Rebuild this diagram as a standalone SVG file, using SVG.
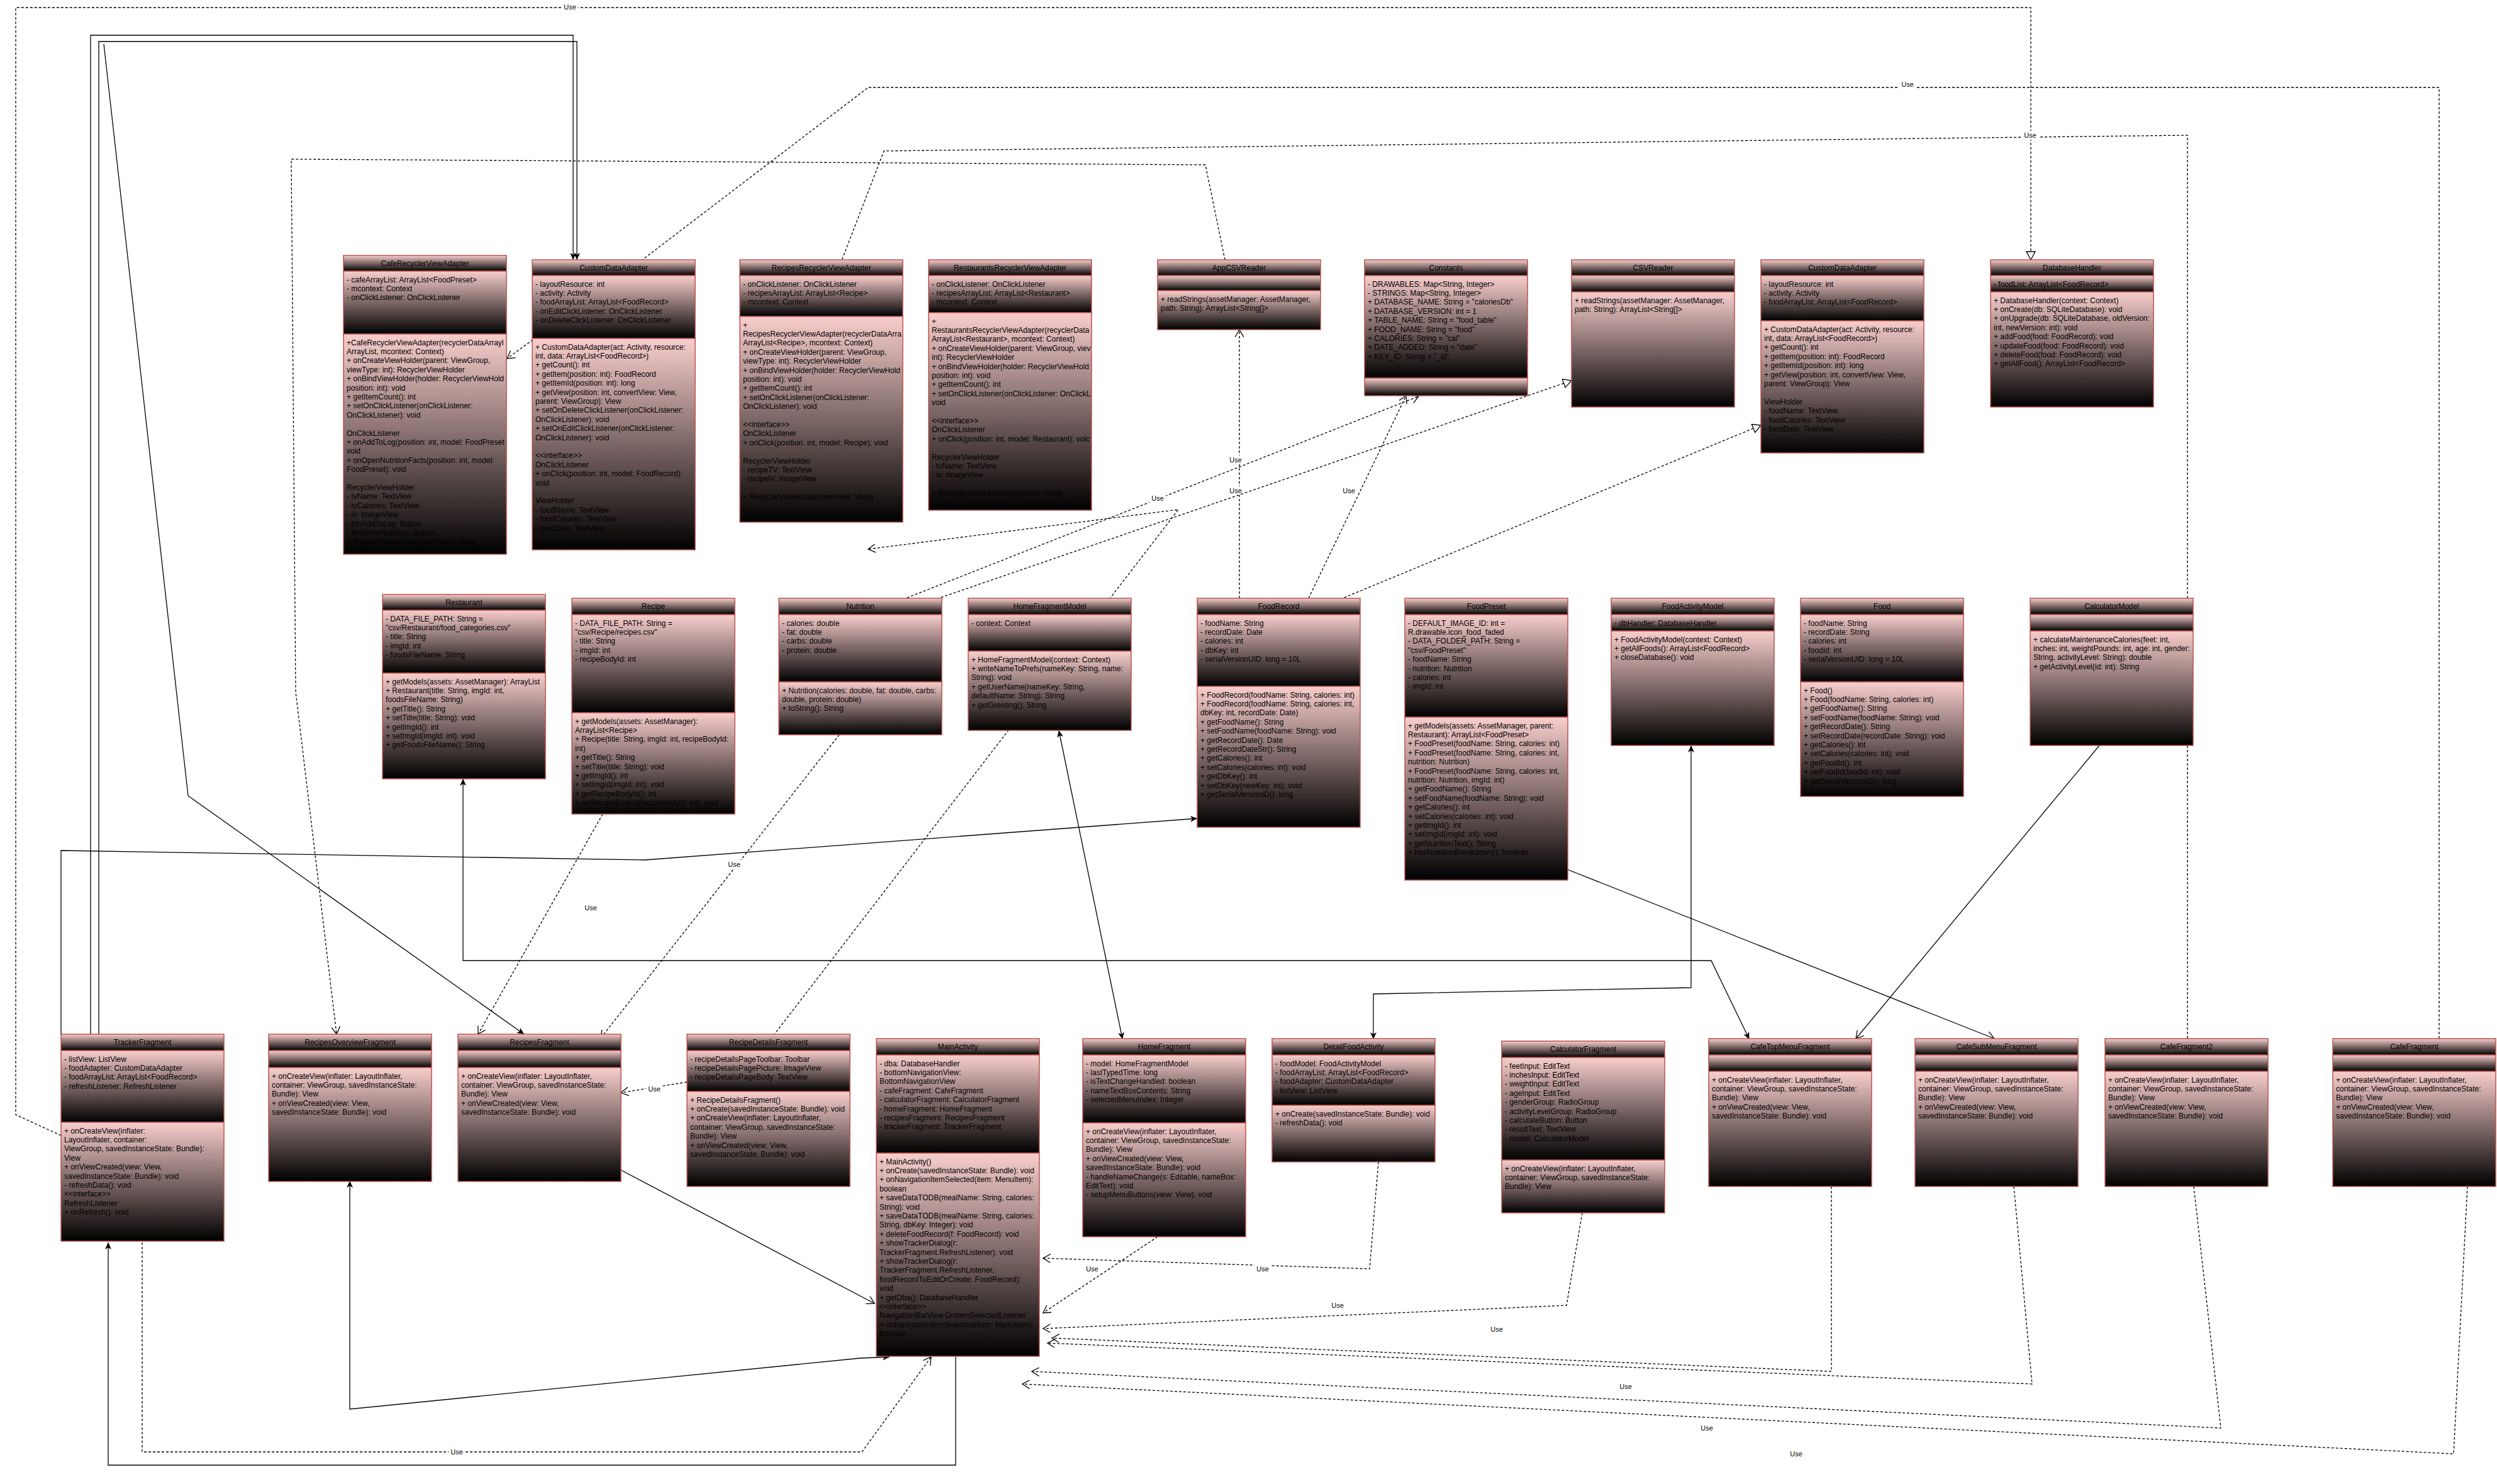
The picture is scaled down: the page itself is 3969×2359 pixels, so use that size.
<svg xmlns="http://www.w3.org/2000/svg" width="3969" height="2359" viewBox="0 0 3969 2359">
<style>
.sec{fill:url(#g);stroke:#b85450;stroke-width:1.5}
.t{font-family:"Liberation Sans",Arial,sans-serif;font-size:12px;fill:#000}
.ti{font-family:"Liberation Sans",Arial,sans-serif;font-size:12px;fill:#000;text-anchor:middle}
.e{fill:none;stroke:#000;stroke-width:1.3}
.d{fill:none;stroke:#000;stroke-width:1.3;stroke-dasharray:4 3}
.lb{font-family:"Liberation Sans",Arial,sans-serif;font-size:11px;fill:#000;text-anchor:middle}
</style>
<defs>
<linearGradient id="g" x1="0" y1="0" x2="0" y2="1"><stop offset="0" stop-color="#f8cecc"/><stop offset="1" stop-color="#000"/></linearGradient>
<marker id="af" markerWidth="12" markerHeight="10" refX="11" refY="5" orient="auto" markerUnits="userSpaceOnUse"><path d="M0,0 L11,5 L0,10 L3,5 Z" fill="#000"/></marker>
<marker id="as" markerWidth="12" markerHeight="10" refX="1" refY="5" orient="auto" markerUnits="userSpaceOnUse"><path d="M11,0 L0,5 L11,10 L8,5 Z" fill="#000"/></marker>
<marker id="ao" markerWidth="14" markerHeight="14" refX="12" refY="7" orient="auto" markerUnits="userSpaceOnUse"><path d="M0,0 L12,7 L0,14" fill="none" stroke="#000" stroke-width="1.3"/></marker>
<marker id="at" markerWidth="16" markerHeight="16" refX="14" refY="8" orient="auto" markerUnits="userSpaceOnUse"><path d="M1,1 L14,8 L1,15 Z" fill="#fff" stroke="#000" stroke-width="1.3"/></marker>
</defs>

<g id="connectors">
<path class="d" d="M97,1805 L25,1772 L25,12 L3228,12 L3228,413" marker-end="url(#at)"/>
<rect x="893" y="4" width="26" height="14" fill="#fff"/><text class="lb" x="906" y="15">Use</text>
<path class="e" d="M144,1644 L144,56 L911,56 L911,413" marker-end="url(#af)"/>
<path class="e" d="M157,1644 L157,66 L917,66 L917,413" marker-end="url(#af)"/>
<path class="e" d="M165,70 L299,1265 L833,1644" marker-end="url(#af)"/>
<path class="d" d="M3877,1651 L3877,139 L1380,139 L1021,413 L806,570" marker-end="url(#ao)"/>
<rect x="3019" y="127" width="26" height="14" fill="#fff"/><text class="lb" x="3032" y="138">Use</text>
<path class="d" d="M3477,1651 L3477,215 L1405,240 L1329,437" marker-end="url(#ao)"/>
<rect x="3214" y="208" width="26" height="14" fill="#fff"/><text class="lb" x="3227" y="219">Use</text>
<path class="d" d="M1947,413 L1916,262 L463,253 L470,1100 L535,1644" marker-end="url(#ao)"/>
<path class="d" d="M1970,951 L1970,524" marker-end="url(#ao)"/>
<rect x="1951" y="724" width="26" height="14" fill="#fff"/><text class="lb" x="1964" y="735">Use</text>
<rect x="1951" y="773" width="26" height="14" fill="#fff"/><text class="lb" x="1964" y="784">Use</text>
<path class="d" d="M1422,958 L2255,630" marker-end="url(#ao)"/>
<rect x="1827" y="785" width="26" height="14" fill="#fff"/><text class="lb" x="1840" y="796">Use</text>
<path class="d" d="M1489,952 L2498,605" marker-end="url(#at)"/>
<path class="d" d="M2080,951 L2235,629" marker-end="url(#ao)"/>
<rect x="2131" y="773" width="26" height="14" fill="#fff"/><text class="lb" x="2144" y="784">Use</text>
<path class="d" d="M2117,958 L2799,676" marker-end="url(#at)"/>
<path class="e" d="M1784,1651 L1683,1161" marker-start="url(#as)" marker-end="url(#af)"/>
<path class="e" d="M2183,1651 L2183,1580 L2688,1570 L2688,1185" marker-start="url(#as)" marker-end="url(#af)"/>
<path class="e" d="M3337,1185 L2950,1651" marker-end="url(#ao)"/>
<path class="e" d="M2491,1382 L3170,1651" marker-end="url(#ao)"/>
<path class="e" d="M987,1860 L1390,2072" marker-end="url(#ao)"/>
<path class="e" d="M2780,1651 L2720,1527 L736,1527 L736,1238" marker-start="url(#as)" marker-end="url(#af)"/>
<path class="e" d="M97,1644 L97,1352 L1025,1367 L1903,1301" marker-end="url(#af)"/>
<path class="d" d="M958,1294 L760,1644" marker-end="url(#ao)"/>
<rect x="926" y="1436" width="26" height="14" fill="#fff"/><text class="lb" x="939" y="1447">Use</text>
<path class="d" d="M1334,1168 L955,1650" marker-end="url(#ao)"/>
<rect x="1154" y="1367" width="26" height="14" fill="#fff"/><text class="lb" x="1167" y="1378">Use</text>
<path class="d" d="M1092,1720 L987,1737" marker-end="url(#ao)"/>
<rect x="1027" y="1724" width="26" height="14" fill="#fff"/><text class="lb" x="1040" y="1735">Use</text>
<path class="d" d="M1221,1657 L1873,810 L1380,873" marker-end="url(#ao)"/>
<rect x="1770" y="1137" width="26" height="14" fill="#fff"/><text class="lb" x="1783" y="1148">Use</text>
<path class="d" d="M1840,1966 L1658,2087" marker-end="url(#ao)"/>
<rect x="1723" y="2010" width="26" height="14" fill="#fff"/><text class="lb" x="1736" y="2021">Use</text>
<path class="d" d="M2191,1847 L2177,2017 L1658,2000" marker-end="url(#ao)"/>
<rect x="1994" y="2010" width="26" height="14" fill="#fff"/><text class="lb" x="2007" y="2021">Use</text>
<path class="d" d="M2515,1928 L2490,2075 L1658,2112" marker-end="url(#ao)"/>
<rect x="2113" y="2068" width="26" height="14" fill="#fff"/><text class="lb" x="2126" y="2079">Use</text>
<path class="d" d="M2911,1886 L2911,2180 L1672,2127" marker-end="url(#ao)"/>
<rect x="2366" y="2106" width="26" height="14" fill="#fff"/><text class="lb" x="2379" y="2117">Use</text>
<path class="d" d="M3201,1886 L3230,2200 L1665,2135" marker-end="url(#ao)"/>
<rect x="2571" y="2197" width="26" height="14" fill="#fff"/><text class="lb" x="2584" y="2208">Use</text>
<path class="d" d="M3487,1886 L3530,2270 L1640,2180" marker-end="url(#ao)"/>
<rect x="2700" y="2263" width="26" height="14" fill="#fff"/><text class="lb" x="2713" y="2274">Use</text>
<path class="d" d="M3922,1886 L3900,2311 L1625,2200" marker-end="url(#ao)"/>
<rect x="2842" y="2304" width="26" height="14" fill="#fff"/><text class="lb" x="2855" y="2315">Use</text>
<path class="e" d="M1519,2157 L1519,2329 L172,2329 L172,1975" marker-end="url(#af)"/>
<rect x="190" y="1955" width="10" height="16" fill="#fff"/><text class="lb" x="195" y="1968">1</text>
<path class="e" d="M556,1878 L556,2240 L1367,2159 L1414,2157" marker-start="url(#as)" marker-end="url(#af)"/>
<path class="d" d="M226,1975 L226,2308 L1370,2308 L1480,2157" marker-end="url(#ao)"/>
<rect x="713" y="2301" width="26" height="14" fill="#fff"/><text class="lb" x="726" y="2312">Use</text>
</g>

<g id="CafeRecyclerViewAdapter">
<rect class="sec" x="546" y="406" width="259" height="25"/><rect class="sec" x="546" y="431" width="259" height="100"/><rect class="sec" x="546" y="531" width="259" height="350"/>
<text class="ti" x="675.5" y="423">CafeRecyclerViewAdapter</text>
<text class="t" y="448.5"><tspan x="551">- cafeArrayList: ArrayList&lt;FoodPreset&gt;</tspan><tspan x="551" dy="14.4">- mcontext: Context</tspan><tspan x="551" dy="14.4">- onClickListener: OnClickListener</tspan></text>
<text class="t" y="548.5"><tspan x="551">+CafeRecyclerViewAdapter(recyclerDataArrayl</tspan><tspan x="551" dy="14.4">ArrayList, mcontext: Context)</tspan><tspan x="551" dy="14.4">+ onCreateViewHolder(parent: ViewGroup,</tspan><tspan x="551" dy="14.4">viewType: int): RecyclerViewHolder</tspan><tspan x="551" dy="14.4">+ onBindViewHolder(holder: RecyclerViewHold</tspan><tspan x="551" dy="14.4">position: int): void</tspan><tspan x="551" dy="14.4">+ getItemCount(): int</tspan><tspan x="551" dy="14.4">+ setOnClickListener(onClickListener:</tspan><tspan x="551" dy="14.4">OnClickListener): void</tspan><tspan x="551" dy="28.8">OnClickListener</tspan><tspan x="551" dy="14.4">+ onAddToLog(position: int, model: FoodPreset</tspan><tspan x="551" dy="14.4">void</tspan><tspan x="551" dy="14.4">+ onOpenNutritionFacts(position: int, model:</tspan><tspan x="551" dy="14.4">FoodPreset): void</tspan><tspan x="551" dy="28.8">RecyclerViewHolder</tspan><tspan x="551" dy="14.4">- tvName: TextView</tspan><tspan x="551" dy="14.4">- tvCalories: TextView</tspan><tspan x="551" dy="14.4">- iv: ImageView</tspan><tspan x="551" dy="14.4">- btnAddToLog: Button</tspan><tspan x="551" dy="14.4">- btnShowNutrition: Button</tspan><tspan x="551" dy="14.4">+ RecyclerViewHolder(itemView: View)</tspan></text>
</g>

<g id="CustomDataAdapter">
<rect class="sec" x="846" y="413" width="259" height="25"/><rect class="sec" x="846" y="438" width="259" height="100"/><rect class="sec" x="846" y="538" width="259" height="336"/>
<text class="ti" x="975.5" y="430">CustomDataAdapter</text>
<text class="t" y="455.5"><tspan x="851">- layoutResource: int</tspan><tspan x="851" dy="14.4">- activity: Activity</tspan><tspan x="851" dy="14.4">- foodArrayList: ArrayList&lt;FoodRecord&gt;</tspan><tspan x="851" dy="14.4">- onEditClickListener: OnClickListener</tspan><tspan x="851" dy="14.4">- onDeleteClickListener: OnClickListener</tspan></text>
<text class="t" y="555.5"><tspan x="851">+ CustomDataAdapter(act: Activity, resource:</tspan><tspan x="851" dy="14.4">int, data: ArrayList&lt;FoodRecord&gt;)</tspan><tspan x="851" dy="14.4">+ getCount(): int</tspan><tspan x="851" dy="14.4">+ getItem(position: int): FoodRecord</tspan><tspan x="851" dy="14.4">+ getItemId(position: int): long</tspan><tspan x="851" dy="14.4">+ getView(position: int, convertView: View,</tspan><tspan x="851" dy="14.4">parent: ViewGroup): View</tspan><tspan x="851" dy="14.4">+ setOnDeleteClickListener(onClickListener:</tspan><tspan x="851" dy="14.4">OnClickListener): void</tspan><tspan x="851" dy="14.4">+ setOnEditClickListener(onClickListener:</tspan><tspan x="851" dy="14.4">OnClickListener): void</tspan><tspan x="851" dy="28.8">&lt;&lt;interface&gt;&gt;</tspan><tspan x="851" dy="14.4">OnClickListener</tspan><tspan x="851" dy="14.4">+ onClick(position: int, model: FoodRecord):</tspan><tspan x="851" dy="14.4">void</tspan><tspan x="851" dy="28.8">ViewHolder</tspan><tspan x="851" dy="14.4">- foodName: TextView</tspan><tspan x="851" dy="14.4">- foodCalories: TextView</tspan><tspan x="851" dy="14.4">- foodDate: TextView</tspan></text>
</g>

<g id="RecipesRecyclerViewAdapter">
<rect class="sec" x="1176" y="413" width="259" height="25"/><rect class="sec" x="1176" y="438" width="259" height="65"/><rect class="sec" x="1176" y="503" width="259" height="327"/>
<text class="ti" x="1305.5" y="430">RecipesRecyclerViewAdapter</text>
<text class="t" y="455.5"><tspan x="1181">- onClickListener: OnClickListener</tspan><tspan x="1181" dy="14.4">- recipesArrayList: ArrayList&lt;Recipe&gt;</tspan><tspan x="1181" dy="14.4">- mcontext: Context</tspan></text>
<text class="t" y="520.5"><tspan x="1181">+</tspan><tspan x="1181" dy="14.4">RecipesRecyclerViewAdapter(recyclerDataArra</tspan><tspan x="1181" dy="14.4">ArrayList&lt;Recipe&gt;, mcontext: Context)</tspan><tspan x="1181" dy="14.4">+ onCreateViewHolder(parent: ViewGroup,</tspan><tspan x="1181" dy="14.4">viewType: int): RecyclerViewHolder</tspan><tspan x="1181" dy="14.4">+ onBindViewHolder(holder: RecyclerViewHold</tspan><tspan x="1181" dy="14.4">position: int): void</tspan><tspan x="1181" dy="14.4">+ getItemCount(): int</tspan><tspan x="1181" dy="14.4">+ setOnClickListener(onClickListener:</tspan><tspan x="1181" dy="14.4">OnClickListener): void</tspan><tspan x="1181" dy="28.8">&lt;&lt;interface&gt;&gt;</tspan><tspan x="1181" dy="14.4">OnClickListener</tspan><tspan x="1181" dy="14.4">+ onClick(position: int, model: Recipe): void</tspan><tspan x="1181" dy="28.8">RecyclerViewHolder</tspan><tspan x="1181" dy="14.4">- recipeTV: TextView</tspan><tspan x="1181" dy="14.4">- recipeIV: ImageView</tspan><tspan x="1181" dy="28.8">+ RecyclerViewHolder(itemView: View)</tspan></text>
</g>

<g id="RestaurantsRecyclerViewAdapter">
<rect class="sec" x="1476" y="413" width="259" height="25"/><rect class="sec" x="1476" y="438" width="259" height="59"/><rect class="sec" x="1476" y="497" width="259" height="314"/>
<text class="ti" x="1605.5" y="430">RestaurantsRecyclerViewAdapter</text>
<text class="t" y="455.5"><tspan x="1481">- onClickListener: OnClickListener</tspan><tspan x="1481" dy="14.4">- recipesArrayList: ArrayList&lt;Restaurant&gt;</tspan><tspan x="1481" dy="14.4">- mcontext: Context</tspan></text>
<text class="t" y="514.5"><tspan x="1481">+</tspan><tspan x="1481" dy="14.4">RestaurantsRecyclerViewAdapter(recyclerData</tspan><tspan x="1481" dy="14.4">ArrayList&lt;Restaurant&gt;, mcontext: Context)</tspan><tspan x="1481" dy="14.4">+ onCreateViewHolder(parent: ViewGroup, viev</tspan><tspan x="1481" dy="14.4">int): RecyclerViewHolder</tspan><tspan x="1481" dy="14.4">+ onBindViewHolder(holder: RecyclerViewHold</tspan><tspan x="1481" dy="14.4">position: int): void</tspan><tspan x="1481" dy="14.4">+ getItemCount(): int</tspan><tspan x="1481" dy="14.4">+ setOnClickListener(onClickListener: OnClickL</tspan><tspan x="1481" dy="14.4">void</tspan><tspan x="1481" dy="28.8">&lt;&lt;interface&gt;&gt;</tspan><tspan x="1481" dy="14.4">OnClickListener</tspan><tspan x="1481" dy="14.4">+ onClick(position: int, model: Restaurant): voic</tspan><tspan x="1481" dy="28.8">RecyclerViewHolder</tspan><tspan x="1481" dy="14.4">- tvName: TextView</tspan><tspan x="1481" dy="14.4">- iv: ImageView</tspan><tspan x="1481" dy="28.8">+ RecyclerViewHolder(itemView: View)</tspan></text>
</g>

<g id="AppCSVReader">
<rect class="sec" x="1840" y="413" width="259" height="25"/><rect class="sec" x="1840" y="438" width="259" height="24"/><rect class="sec" x="1840" y="462" width="259" height="62"/>
<text class="ti" x="1969.5" y="430">AppCSVReader</text>
<text class="t" y="479.5"><tspan x="1845">+ readStrings(assetManager: AssetManager,</tspan><tspan x="1845" dy="14.4">path: String): ArrayList&lt;String[]&gt;</tspan></text>
</g>

<g id="Constants">
<rect class="sec" x="2169" y="413" width="259" height="25"/><rect class="sec" x="2169" y="438" width="259" height="163"/><rect class="sec" x="2169" y="601" width="259" height="28"/>
<text class="ti" x="2298.5" y="430">Constants</text>
<text class="t" y="455.5"><tspan x="2174">- DRAWABLES: Map&lt;String, Integer&gt;</tspan><tspan x="2174" dy="14.4">- STRINGS: Map&lt;String, Integer&gt;</tspan><tspan x="2174" dy="14.4">+ DATABASE_NAME: String = "caloriesDb"</tspan><tspan x="2174" dy="14.4">+ DATABASE_VERSION: int = 1</tspan><tspan x="2174" dy="14.4">+ TABLE_NAME: String = "food_table"</tspan><tspan x="2174" dy="14.4">+ FOOD_NAME: String = "food"</tspan><tspan x="2174" dy="14.4">+ CALORIES: String = "cal"</tspan><tspan x="2174" dy="14.4">+ DATE_ADDED: String = "date"</tspan><tspan x="2174" dy="14.4">+ KEY_ID: String = "_id"</tspan></text>
</g>

<g id="CSVReader">
<rect class="sec" x="2498" y="413" width="259" height="25"/><rect class="sec" x="2498" y="438" width="259" height="26"/><rect class="sec" x="2498" y="464" width="259" height="183"/>
<text class="ti" x="2627.5" y="430">CSVReader</text>
<text class="t" y="481.5"><tspan x="2503">+ readStrings(assetManager: AssetManager,</tspan><tspan x="2503" dy="14.4">path: String): ArrayList&lt;String[]&gt;</tspan></text>
</g>

<g id="CustomDataAdapter2">
<rect class="sec" x="2799" y="413" width="259" height="25"/><rect class="sec" x="2799" y="438" width="259" height="72"/><rect class="sec" x="2799" y="510" width="259" height="210"/>
<text class="ti" x="2928.5" y="430">CustomDataAdapter</text>
<text class="t" y="455.5"><tspan x="2804">- layoutResource: int</tspan><tspan x="2804" dy="14.4">- activity: Activity</tspan><tspan x="2804" dy="14.4">- foodArrayList: ArrayList&lt;FoodRecord&gt;</tspan></text>
<text class="t" y="527.5"><tspan x="2804">+ CustomDataAdapter(act: Activity, resource:</tspan><tspan x="2804" dy="14.4">int, data: ArrayList&lt;FoodRecord&gt;)</tspan><tspan x="2804" dy="14.4">+ getCount(): int</tspan><tspan x="2804" dy="14.4">+ getItem(position: int): FoodRecord</tspan><tspan x="2804" dy="14.4">+ getItemId(position: int): long</tspan><tspan x="2804" dy="14.4">+ getView(position: int, convertView: View,</tspan><tspan x="2804" dy="14.4">parent: ViewGroup): View</tspan><tspan x="2804" dy="28.8">ViewHolder</tspan><tspan x="2804" dy="14.4">- foodName: TextView</tspan><tspan x="2804" dy="14.4">- foodCalories: TextView</tspan><tspan x="2804" dy="14.4">- foodDate: TextView</tspan></text>
</g>

<g id="DatabaseHandler">
<rect class="sec" x="3164" y="413" width="259" height="25"/><rect class="sec" x="3164" y="438" width="259" height="26"/><rect class="sec" x="3164" y="464" width="259" height="183"/>
<text class="ti" x="3293.5" y="430">DatabaseHandler</text>
<text class="t" y="455.5"><tspan x="3169">- foodList: ArrayList&lt;FoodRecord&gt;</tspan></text>
<text class="t" y="481.5"><tspan x="3169">+ DatabaseHandler(context: Context)</tspan><tspan x="3169" dy="14.4">+ onCreate(db: SQLiteDatabase): void</tspan><tspan x="3169" dy="14.4">+ onUpgrade(db: SQLiteDatabase, oldVersion:</tspan><tspan x="3169" dy="14.4">int, newVersion: int): void</tspan><tspan x="3169" dy="14.4">+ addFood(food: FoodRecord): void</tspan><tspan x="3169" dy="14.4">+ updateFood(food: FoodRecord): void</tspan><tspan x="3169" dy="14.4">+ deleteFood(food: FoodRecord): void</tspan><tspan x="3169" dy="14.4">+ getAllFood(): ArrayList&lt;FoodRecord&gt;</tspan></text>
</g>

<g id="Restaurant">
<rect class="sec" x="608" y="945" width="259" height="25"/><rect class="sec" x="608" y="970" width="259" height="100"/><rect class="sec" x="608" y="1070" width="259" height="168"/>
<text class="ti" x="737.5" y="962">Restaurant</text>
<text class="t" y="987.5"><tspan x="613">- DATA_FILE_PATH: String =</tspan><tspan x="613" dy="14.4">"csv/Restaurant/food_categories.csv"</tspan><tspan x="613" dy="14.4">- title: String</tspan><tspan x="613" dy="14.4">- imgId: int</tspan><tspan x="613" dy="14.4">- foodsFileName: String</tspan></text>
<text class="t" y="1087.5"><tspan x="613">+ getModels(assets: AssetManager): ArrayList</tspan><tspan x="613" dy="14.4">+ Restaurant(title: String, imgId: int,</tspan><tspan x="613" dy="14.4">foodsFileName: String)</tspan><tspan x="613" dy="14.4">+ getTitle(): String</tspan><tspan x="613" dy="14.4">+ setTitle(title: String): void</tspan><tspan x="613" dy="14.4">+ getImgId(): int</tspan><tspan x="613" dy="14.4">+ setImgId(imgId: int): void</tspan><tspan x="613" dy="14.4">+ getFoodsFileName(): String</tspan></text>
</g>

<g id="Recipe">
<rect class="sec" x="909" y="951" width="259" height="26"/><rect class="sec" x="909" y="977" width="259" height="156"/><rect class="sec" x="909" y="1133" width="259" height="161"/>
<text class="ti" x="1038.5" y="968">Recipe</text>
<text class="t" y="994.5"><tspan x="914">- DATA_FILE_PATH: String =</tspan><tspan x="914" dy="14.4">"csv/Recipe/recipes.csv"</tspan><tspan x="914" dy="14.4">- title: String</tspan><tspan x="914" dy="14.4">- imgId: int</tspan><tspan x="914" dy="14.4">- recipeBodyId: int</tspan></text>
<text class="t" y="1150.5"><tspan x="914">+ getModels(assets: AssetManager):</tspan><tspan x="914" dy="14.4">ArrayList&lt;Recipe&gt;</tspan><tspan x="914" dy="14.4">+ Recipe(title: String, imgId: int, recipeBodyId:</tspan><tspan x="914" dy="14.4">int)</tspan><tspan x="914" dy="14.4">+ getTitle(): String</tspan><tspan x="914" dy="14.4">+ setTitle(title: String): void</tspan><tspan x="914" dy="14.4">+ getImgId(): int</tspan><tspan x="914" dy="14.4">+ setImgId(imgId: int): void</tspan><tspan x="914" dy="14.4">+ getRecipeBodyId(): int</tspan><tspan x="914" dy="14.4">+ setRecipeBodyId(recipeBodyId: int): void</tspan></text>
</g>

<g id="Nutrition">
<rect class="sec" x="1238" y="951" width="259" height="26"/><rect class="sec" x="1238" y="977" width="259" height="107"/><rect class="sec" x="1238" y="1084" width="259" height="84"/>
<text class="ti" x="1367.5" y="968">Nutrition</text>
<text class="t" y="994.5"><tspan x="1243">- calories: double</tspan><tspan x="1243" dy="14.4">- fat: double</tspan><tspan x="1243" dy="14.4">- carbs: double</tspan><tspan x="1243" dy="14.4">- protein: double</tspan></text>
<text class="t" y="1101.5"><tspan x="1243">+ Nutrition(calories: double, fat: double, carbs:</tspan><tspan x="1243" dy="14.4">double, protein: double)</tspan><tspan x="1243" dy="14.4">+ toString(): String</tspan></text>
</g>

<g id="HomeFragmentModel">
<rect class="sec" x="1539" y="951" width="259" height="26"/><rect class="sec" x="1539" y="977" width="259" height="58"/><rect class="sec" x="1539" y="1035" width="259" height="126"/>
<text class="ti" x="1668.5" y="968">HomeFragmentModel</text>
<text class="t" y="994.5"><tspan x="1544">- context: Context</tspan></text>
<text class="t" y="1052.5"><tspan x="1544">+ HomeFragmentModel(context: Context)</tspan><tspan x="1544" dy="14.4">+ writeNameToPrefs(nameKey: String, name:</tspan><tspan x="1544" dy="14.4">String): void</tspan><tspan x="1544" dy="14.4">+ getUserName(nameKey: String,</tspan><tspan x="1544" dy="14.4">defaultName: String): String</tspan><tspan x="1544" dy="14.4">+ getGreeting(): String</tspan></text>
</g>

<g id="FoodRecord">
<rect class="sec" x="1903" y="951" width="259" height="26"/><rect class="sec" x="1903" y="977" width="259" height="114"/><rect class="sec" x="1903" y="1091" width="259" height="224"/>
<text class="ti" x="2032.5" y="968">FoodRecord</text>
<text class="t" y="994.5"><tspan x="1908">- foodName: String</tspan><tspan x="1908" dy="14.4">- recordDate: Date</tspan><tspan x="1908" dy="14.4">- calories: int</tspan><tspan x="1908" dy="14.4">- dbKey: int</tspan><tspan x="1908" dy="14.4">- serialVersionUID: long = 10L</tspan></text>
<text class="t" y="1108.5"><tspan x="1908">+ FoodRecord(foodName: String, calories: int)</tspan><tspan x="1908" dy="14.4">+ FoodRecord(foodName: String, calories: int,</tspan><tspan x="1908" dy="14.4">dbKey: int, recordDate: Date)</tspan><tspan x="1908" dy="14.4">+ getFoodName(): String</tspan><tspan x="1908" dy="14.4">+ setFoodName(foodName: String): void</tspan><tspan x="1908" dy="14.4">+ getRecordDate(): Date</tspan><tspan x="1908" dy="14.4">+ getRecordDateStr(): String</tspan><tspan x="1908" dy="14.4">+ getCalories(): int</tspan><tspan x="1908" dy="14.4">+ setCalories(calories: int): void</tspan><tspan x="1908" dy="14.4">+ getDbKey(): int</tspan><tspan x="1908" dy="14.4">+ setDbKey(newKey: int): void</tspan><tspan x="1908" dy="14.4">+ getSerialVersionID(): long</tspan></text>
</g>

<g id="FoodPreset">
<rect class="sec" x="2233" y="951" width="259" height="26"/><rect class="sec" x="2233" y="977" width="259" height="163"/><rect class="sec" x="2233" y="1140" width="259" height="259"/>
<text class="ti" x="2362.5" y="968">FoodPreset</text>
<text class="t" y="994.5"><tspan x="2238">- DEFAULT_IMAGE_ID: int =</tspan><tspan x="2238" dy="14.4">R.drawable.icon_food_faded</tspan><tspan x="2238" dy="14.4">- DATA_FOLDER_PATH: String =</tspan><tspan x="2238" dy="14.4">"csv/FoodPreset"</tspan><tspan x="2238" dy="14.4">- foodName: String</tspan><tspan x="2238" dy="14.4">- nutrition: Nutrition</tspan><tspan x="2238" dy="14.4">- calories: int</tspan><tspan x="2238" dy="14.4">- imgId: int</tspan></text>
<text class="t" y="1157.5"><tspan x="2238">+ getModels(assets: AssetManager, parent:</tspan><tspan x="2238" dy="14.4">Restaurant): ArrayList&lt;FoodPreset&gt;</tspan><tspan x="2238" dy="14.4">+ FoodPreset(foodName: String, calories: int)</tspan><tspan x="2238" dy="14.4">+ FoodPreset(foodName: String, calories: int,</tspan><tspan x="2238" dy="14.4">nutrition: Nutrition)</tspan><tspan x="2238" dy="14.4">+ FoodPreset(foodName: String, calories: int,</tspan><tspan x="2238" dy="14.4">nutrition: Nutrition, imgId: int)</tspan><tspan x="2238" dy="14.4">+ getFoodName(): String</tspan><tspan x="2238" dy="14.4">+ setFoodName(foodName: String): void</tspan><tspan x="2238" dy="14.4">+ getCalories(): int</tspan><tspan x="2238" dy="14.4">+ setCalories(calories: int): void</tspan><tspan x="2238" dy="14.4">+ getImgId(): int</tspan><tspan x="2238" dy="14.4">+ setImgId(imgId: int): void</tspan><tspan x="2238" dy="14.4">+ getNutritionText(): String</tspan><tspan x="2238" dy="14.4">+ hasNutritionBreakdown(): boolean</tspan></text>
</g>

<g id="FoodActivityModel">
<rect class="sec" x="2561" y="951" width="259" height="26"/><rect class="sec" x="2561" y="977" width="259" height="26"/><rect class="sec" x="2561" y="1003" width="259" height="182"/>
<text class="ti" x="2690.5" y="968">FoodActivityModel</text>
<text class="t" y="994.5"><tspan x="2566">- dbHandler: DatabaseHandler</tspan></text>
<text class="t" y="1020.5"><tspan x="2566">+ FoodActivityModel(context: Context)</tspan><tspan x="2566" dy="14.4">+ getAllFoods(): ArrayList&lt;FoodRecord&gt;</tspan><tspan x="2566" dy="14.4">+ closeDatabase(): void</tspan></text>
</g>

<g id="Food">
<rect class="sec" x="2862" y="951" width="259" height="26"/><rect class="sec" x="2862" y="977" width="259" height="107"/><rect class="sec" x="2862" y="1084" width="259" height="182"/>
<text class="ti" x="2991.5" y="968">Food</text>
<text class="t" y="994.5"><tspan x="2867">- foodName: String</tspan><tspan x="2867" dy="14.4">- recordDate: String</tspan><tspan x="2867" dy="14.4">- calories: int</tspan><tspan x="2867" dy="14.4">- foodId: int</tspan><tspan x="2867" dy="14.4">- serialVersionUID: long = 10L</tspan></text>
<text class="t" y="1101.5"><tspan x="2867">+ Food()</tspan><tspan x="2867" dy="14.4">+ Food(foodName: String, calories: int)</tspan><tspan x="2867" dy="14.4">+ getFoodName(): String</tspan><tspan x="2867" dy="14.4">+ setFoodName(foodName: String): void</tspan><tspan x="2867" dy="14.4">+ getRecordDate(): String</tspan><tspan x="2867" dy="14.4">+ setRecordDate(recordDate: String): void</tspan><tspan x="2867" dy="14.4">+ getCalories(): int</tspan><tspan x="2867" dy="14.4">+ setCalories(calories: int): void</tspan><tspan x="2867" dy="14.4">+ getFoodId(): int</tspan><tspan x="2867" dy="14.4">+ setFoodId(foodId: int): void</tspan><tspan x="2867" dy="14.4">+ getSerialVersionID(): long</tspan></text>
</g>

<g id="CalculatorModel">
<rect class="sec" x="3227" y="951" width="259" height="26"/><rect class="sec" x="3227" y="977" width="259" height="26"/><rect class="sec" x="3227" y="1003" width="259" height="182"/>
<text class="ti" x="3356.5" y="968">CalculatorModel</text>
<text class="t" y="1020.5"><tspan x="3232">+ calculateMaintenanceCalories(feet: int,</tspan><tspan x="3232" dy="14.4">inches: int, weightPounds: int, age: int, gender:</tspan><tspan x="3232" dy="14.4">String, activityLevel: String): double</tspan><tspan x="3232" dy="14.4">+ getActivityLevel(id: int): String</tspan></text>
</g>

<g id="TrackerFragment">
<rect class="sec" x="97" y="1644" width="259" height="26"/><rect class="sec" x="97" y="1670" width="259" height="114"/><rect class="sec" x="97" y="1784" width="259" height="189"/>
<text class="ti" x="226.5" y="1661">TrackerFragment</text>
<text class="t" y="1687.5"><tspan x="102">- listView: ListView</tspan><tspan x="102" dy="14.4">- foodAdapter: CustomDataAdapter</tspan><tspan x="102" dy="14.4">- foodArrayList: ArrayList&lt;FoodRecord&gt;</tspan><tspan x="102" dy="14.4">- refreshListener: RefreshListener</tspan></text>
<text class="t" y="1801.5"><tspan x="102">+ onCreateView(inflater:</tspan><tspan x="102" dy="14.4">LayoutInflater, container:</tspan><tspan x="102" dy="14.4">ViewGroup,  savedInstanceState: Bundle):</tspan><tspan x="102" dy="14.4">View</tspan><tspan x="102" dy="14.4">+ onViewCreated(view: View,</tspan><tspan x="102" dy="14.4">savedInstanceState: Bundle): void</tspan><tspan x="102" dy="14.4">- refreshData(): void</tspan><tspan x="102" dy="14.4">&lt;&lt;interface&gt;&gt;</tspan><tspan x="102" dy="14.4">RefreshListener</tspan><tspan x="102" dy="14.4">+ onRefresh(): void</tspan></text>
</g>

<g id="RecipesOverviewFragment">
<rect class="sec" x="427" y="1644" width="259" height="26"/><rect class="sec" x="427" y="1670" width="259" height="27"/><rect class="sec" x="427" y="1697" width="259" height="181"/>
<text class="ti" x="556.5" y="1661">RecipesOverviewFragment</text>
<text class="t" y="1714.5"><tspan x="432">+ onCreateView(inflater: LayoutInflater,</tspan><tspan x="432" dy="14.4">container: ViewGroup, savedInstanceState:</tspan><tspan x="432" dy="14.4">Bundle): View</tspan><tspan x="432" dy="14.4">+ onViewCreated(view: View,</tspan><tspan x="432" dy="14.4">savedInstanceState: Bundle): void</tspan></text>
</g>

<g id="RecipesFragment">
<rect class="sec" x="728" y="1644" width="259" height="26"/><rect class="sec" x="728" y="1670" width="259" height="27"/><rect class="sec" x="728" y="1697" width="259" height="181"/>
<text class="ti" x="857.5" y="1661">RecipesFragment</text>
<text class="t" y="1714.5"><tspan x="733">+ onCreateView(inflater: LayoutInflater,</tspan><tspan x="733" dy="14.4">container: ViewGroup, savedInstanceState:</tspan><tspan x="733" dy="14.4">Bundle): View</tspan><tspan x="733" dy="14.4">+ onViewCreated(view: View,</tspan><tspan x="733" dy="14.4">savedInstanceState: Bundle): void</tspan></text>
</g>

<g id="RecipeDetailsFragment">
<rect class="sec" x="1092" y="1644" width="259" height="26"/><rect class="sec" x="1092" y="1670" width="259" height="65"/><rect class="sec" x="1092" y="1735" width="259" height="151"/>
<text class="ti" x="1221.5" y="1661">RecipeDetailsFragment</text>
<text class="t" y="1687.5"><tspan x="1097">- recipeDetailsPageToolbar: Toolbar</tspan><tspan x="1097" dy="14.4">- recipeDetailsPagePicture: ImageView</tspan><tspan x="1097" dy="14.4">- recipeDetailsPageBody: TextView</tspan></text>
<text class="t" y="1752.5"><tspan x="1097">+ RecipeDetailsFragment()</tspan><tspan x="1097" dy="14.4">+ onCreate(savedInstanceState: Bundle): void</tspan><tspan x="1097" dy="14.4">+ onCreateView(inflater: LayoutInflater,</tspan><tspan x="1097" dy="14.4">container: ViewGroup, savedInstanceState:</tspan><tspan x="1097" dy="14.4">Bundle): View</tspan><tspan x="1097" dy="14.4">+ onViewCreated(view: View,</tspan><tspan x="1097" dy="14.4">savedInstanceState: Bundle): void</tspan></text>
</g>

<g id="MainActivity">
<rect class="sec" x="1393" y="1651" width="259" height="26"/><rect class="sec" x="1393" y="1677" width="259" height="156"/><rect class="sec" x="1393" y="1833" width="259" height="323"/>
<text class="ti" x="1522.5" y="1668">MainActivity</text>
<text class="t" y="1694.5"><tspan x="1398">- dba: DatabaseHandler</tspan><tspan x="1398" dy="14.4">- bottomNavigationView:</tspan><tspan x="1398" dy="14.4">BottomNavigationView</tspan><tspan x="1398" dy="14.4">- cafeFragment: CafeFragment</tspan><tspan x="1398" dy="14.4">- calculatorFragment: CalculatorFragment</tspan><tspan x="1398" dy="14.4">- homeFragment: HomeFragment</tspan><tspan x="1398" dy="14.4">- recipesFragment: RecipesFragment</tspan><tspan x="1398" dy="14.4">- trackerFragment: TrackerFragment</tspan></text>
<text class="t" y="1850.5"><tspan x="1398">+ MainActivity()</tspan><tspan x="1398" dy="14.4">+ onCreate(savedInstanceState: Bundle): void</tspan><tspan x="1398" dy="14.4">+ onNavigationItemSelected(item: MenuItem):</tspan><tspan x="1398" dy="14.4">boolean</tspan><tspan x="1398" dy="14.4">+ saveDataTODB(mealName: String, calories:</tspan><tspan x="1398" dy="14.4">String): void</tspan><tspan x="1398" dy="14.4">+ saveDataTODB(mealName: String, calories:</tspan><tspan x="1398" dy="14.4">String, dbKey: Integer): void</tspan><tspan x="1398" dy="14.4">+ deleteFoodRecord(f: FoodRecord): void</tspan><tspan x="1398" dy="14.4">+ showTrackerDialog(r:</tspan><tspan x="1398" dy="14.4">TrackerFragment.RefreshListener): void</tspan><tspan x="1398" dy="14.4">+ showTrackerDialog(r:</tspan><tspan x="1398" dy="14.4">TrackerFragment.RefreshListener,</tspan><tspan x="1398" dy="14.4">foodRecordToEditOrCreate: FoodRecord):</tspan><tspan x="1398" dy="14.4">void</tspan><tspan x="1398" dy="14.4">+ getDba(): DatabaseHandler</tspan><tspan x="1398" dy="14.4">&lt;&lt;interface&gt;&gt;</tspan><tspan x="1398" dy="14.4">NavigationBarView.OnItemSelectedListener</tspan><tspan x="1398" dy="14.4">+ onNavigationItemSelected(item: MenuItem):</tspan><tspan x="1398" dy="14.4">boolean</tspan></text>
</g>

<g id="HomeFragment">
<rect class="sec" x="1721" y="1651" width="259" height="26"/><rect class="sec" x="1721" y="1677" width="259" height="108"/><rect class="sec" x="1721" y="1785" width="259" height="181"/>
<text class="ti" x="1850.5" y="1668">HomeFragment</text>
<text class="t" y="1694.5"><tspan x="1726">- model: HomeFragmentModel</tspan><tspan x="1726" dy="14.4">- lastTypedTime: long</tspan><tspan x="1726" dy="14.4">- isTextChangeHandled: boolean</tspan><tspan x="1726" dy="14.4">- nameTextBoxContents: String</tspan><tspan x="1726" dy="14.4">- selectedMenuIndex: Integer</tspan></text>
<text class="t" y="1802.5"><tspan x="1726">+ onCreateView(inflater: LayoutInflater,</tspan><tspan x="1726" dy="14.4">container: ViewGroup, savedInstanceState:</tspan><tspan x="1726" dy="14.4">Bundle): View</tspan><tspan x="1726" dy="14.4">+ onViewCreated(view: View,</tspan><tspan x="1726" dy="14.4">savedInstanceState: Bundle): void</tspan><tspan x="1726" dy="14.4">- handleNameChange(s: Editable, nameBox:</tspan><tspan x="1726" dy="14.4">EditText): void</tspan><tspan x="1726" dy="14.4">- setupMenuButtons(view: View): void</tspan></text>
</g>

<g id="DetailFoodActivity">
<rect class="sec" x="2022" y="1651" width="259" height="26"/><rect class="sec" x="2022" y="1677" width="259" height="80"/><rect class="sec" x="2022" y="1757" width="259" height="90"/>
<text class="ti" x="2151.5" y="1668">DetailFoodActivity</text>
<text class="t" y="1694.5"><tspan x="2027">- foodModel: FoodActivityModel</tspan><tspan x="2027" dy="14.4">- foodArrayList: ArrayList&lt;FoodRecord&gt;</tspan><tspan x="2027" dy="14.4">- foodAdapter: CustomDataAdapter</tspan><tspan x="2027" dy="14.4">- listView: ListView</tspan></text>
<text class="t" y="1774.5"><tspan x="2027">+ onCreate(savedInstanceState: Bundle): void</tspan><tspan x="2027" dy="14.4">- refreshData(): void</tspan></text>
</g>

<g id="CalculatorFragment">
<rect class="sec" x="2387" y="1655" width="259" height="26"/><rect class="sec" x="2387" y="1681" width="259" height="163"/><rect class="sec" x="2387" y="1844" width="259" height="84"/>
<text class="ti" x="2516.5" y="1672">CalculatorFragment</text>
<text class="t" y="1698.5"><tspan x="2392">- feetInput: EditText</tspan><tspan x="2392" dy="14.4">- inchesInput: EditText</tspan><tspan x="2392" dy="14.4">- weightInput: EditText</tspan><tspan x="2392" dy="14.4">- ageInput: EditText</tspan><tspan x="2392" dy="14.4">- genderGroup: RadioGroup</tspan><tspan x="2392" dy="14.4">- activityLevelGroup: RadioGroup</tspan><tspan x="2392" dy="14.4">- calculateButton: Button</tspan><tspan x="2392" dy="14.4">- resultText: TextView</tspan><tspan x="2392" dy="14.4">- model: CalculatorModel</tspan></text>
<text class="t" y="1861.5"><tspan x="2392">+ onCreateView(inflater: LayoutInflater,</tspan><tspan x="2392" dy="14.4">container: ViewGroup, savedInstanceState:</tspan><tspan x="2392" dy="14.4">Bundle): View</tspan></text>
</g>

<g id="CafeTopMenuFragment">
<rect class="sec" x="2716" y="1651" width="259" height="26"/><rect class="sec" x="2716" y="1677" width="259" height="26"/><rect class="sec" x="2716" y="1703" width="259" height="183"/>
<text class="ti" x="2845.5" y="1668">CafeTopMenuFragment</text>
<text class="t" y="1720.5"><tspan x="2721">+ onCreateView(inflater: LayoutInflater,</tspan><tspan x="2721" dy="14.4">container: ViewGroup, savedInstanceState:</tspan><tspan x="2721" dy="14.4">Bundle): View</tspan><tspan x="2721" dy="14.4">+ onViewCreated(view: View,</tspan><tspan x="2721" dy="14.4">savedInstanceState: Bundle): void</tspan></text>
</g>

<g id="CafeSubMenuFragment">
<rect class="sec" x="3044" y="1651" width="259" height="26"/><rect class="sec" x="3044" y="1677" width="259" height="26"/><rect class="sec" x="3044" y="1703" width="259" height="183"/>
<text class="ti" x="3173.5" y="1668">CafeSubMenuFragment</text>
<text class="t" y="1720.5"><tspan x="3049">+ onCreateView(inflater: LayoutInflater,</tspan><tspan x="3049" dy="14.4">container: ViewGroup, savedInstanceState:</tspan><tspan x="3049" dy="14.4">Bundle): View</tspan><tspan x="3049" dy="14.4">+ onViewCreated(view: View,</tspan><tspan x="3049" dy="14.4">savedInstanceState: Bundle): void</tspan></text>
</g>

<g id="CafeFragment2">
<rect class="sec" x="3346" y="1651" width="259" height="26"/><rect class="sec" x="3346" y="1677" width="259" height="26"/><rect class="sec" x="3346" y="1703" width="259" height="183"/>
<text class="ti" x="3475.5" y="1668">CafeFragment2</text>
<text class="t" y="1720.5"><tspan x="3351">+ onCreateView(inflater: LayoutInflater,</tspan><tspan x="3351" dy="14.4">container: ViewGroup, savedInstanceState:</tspan><tspan x="3351" dy="14.4">Bundle): View</tspan><tspan x="3351" dy="14.4">+ onViewCreated(view: View,</tspan><tspan x="3351" dy="14.4">savedInstanceState: Bundle): void</tspan></text>
</g>

<g id="CafeFragment">
<rect class="sec" x="3708" y="1651" width="259" height="26"/><rect class="sec" x="3708" y="1677" width="259" height="26"/><rect class="sec" x="3708" y="1703" width="259" height="183"/>
<text class="ti" x="3837.5" y="1668">CafeFragment</text>
<text class="t" y="1720.5"><tspan x="3713">+ onCreateView(inflater: LayoutInflater,</tspan><tspan x="3713" dy="14.4">container: ViewGroup, savedInstanceState:</tspan><tspan x="3713" dy="14.4">Bundle): View</tspan><tspan x="3713" dy="14.4">+ onViewCreated(view: View,</tspan><tspan x="3713" dy="14.4">savedInstanceState: Bundle): void</tspan></text>
</g>
</svg>
